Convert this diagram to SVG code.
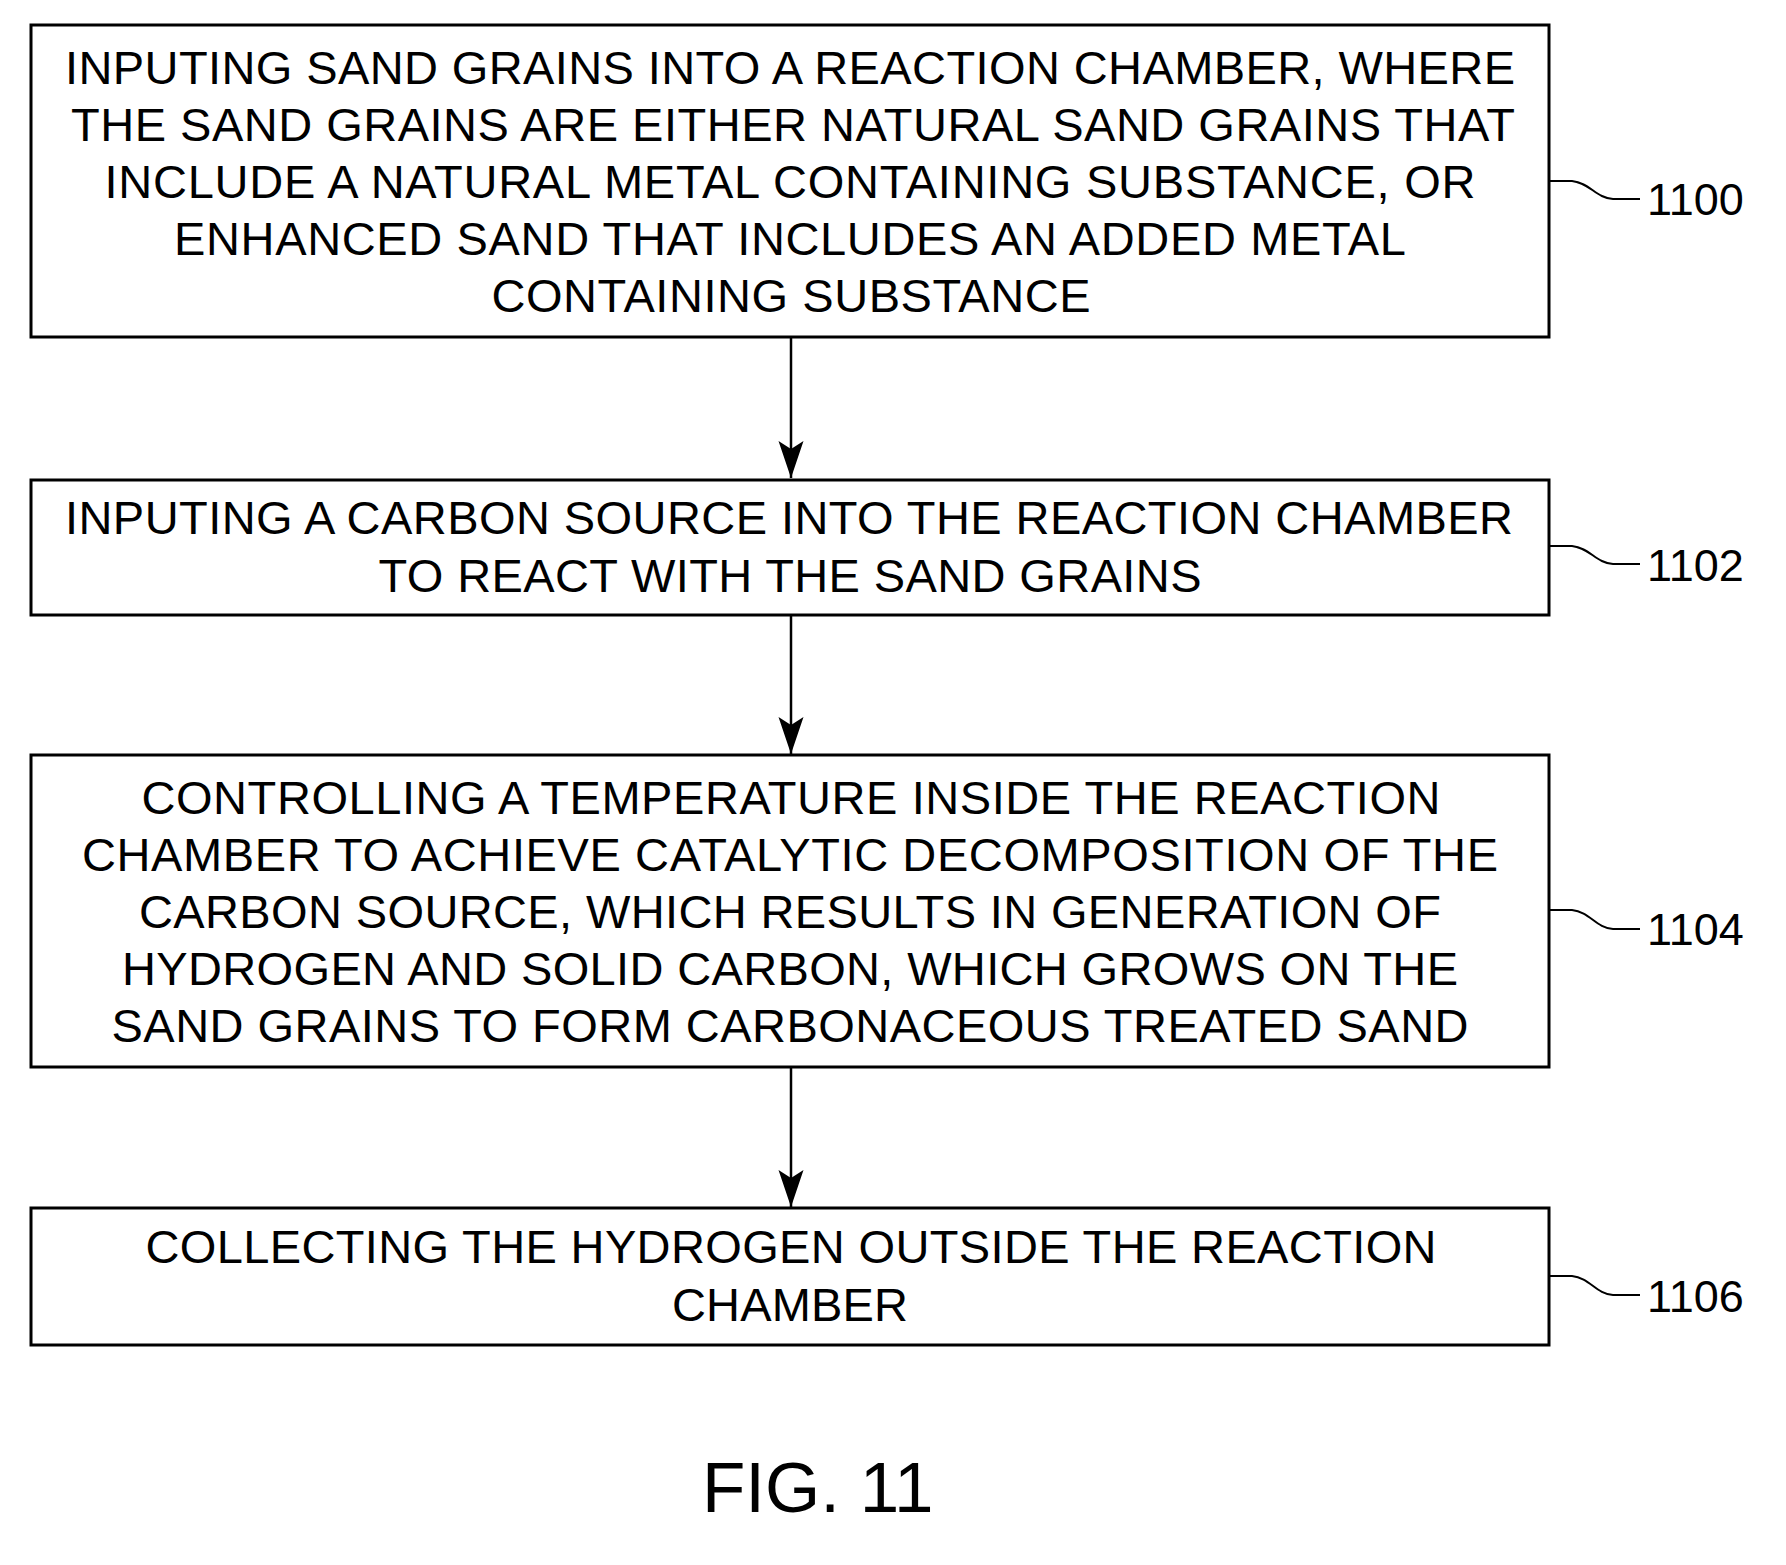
<svg xmlns="http://www.w3.org/2000/svg" width="1786" height="1565" viewBox="0 0 1786 1565">
<style>
.box{fill:#fff;stroke:#000;stroke-width:3}
.t{font-family:"Liberation Sans",Arial,sans-serif;font-size:47px;fill:#000;text-anchor:middle}
.lbl{font-family:"Liberation Sans",Arial,sans-serif;font-size:45px;fill:#000}
.lead{fill:none;stroke:#000;stroke-width:2}
.conn{stroke:#000;stroke-width:2.5;fill:none}
</style>
<defs>
<marker id="arr" markerUnits="userSpaceOnUse" markerWidth="42" markerHeight="30" viewBox="-40 -15 42 30" refX="0" refY="0" orient="auto">
<path d="M0,0 L-37,-12.5 L-29,0 L-37,12.5 Z" fill="#000"/>
</marker>
</defs>
<rect width="1786" height="1565" fill="#fff"/>
<g id="connectors">
<line class="conn" x1="791" y1="337" x2="791" y2="478" marker-end="url(#arr)"/>
<line class="conn" x1="791" y1="615" x2="791" y2="754" marker-end="url(#arr)"/>
<line class="conn" x1="791" y1="1067" x2="791" y2="1207" marker-end="url(#arr)"/>
</g>
<g id="n1100">
<rect class="box" x="31" y="25" width="1518" height="312"/>
<text class="t" x="790" y="84" textLength="1450">INPUTING SAND GRAINS INTO A REACTION CHAMBER, WHERE</text>
<text class="t" x="793" y="141" textLength="1444">THE SAND GRAINS ARE EITHER NATURAL SAND GRAINS THAT</text>
<text class="t" x="790" y="198" textLength="1371">INCLUDE A NATURAL METAL CONTAINING SUBSTANCE, OR</text>
<text class="t" x="790" y="255" textLength="1232">ENHANCED SAND THAT INCLUDES AN ADDED METAL</text>
<text class="t" x="791" y="312" textLength="599">CONTAINING SUBSTANCE</text>
<path class="lead" d="M1550,181 L1572,181 C1590,183 1596,198 1613,199 L1640,199"/>
<text class="lbl" x="1647" y="215">1100</text>
</g>
<g id="n1102">
<rect class="box" x="31" y="480" width="1518" height="135"/>
<text class="t" x="789" y="534" textLength="1448">INPUTING A CARBON SOURCE INTO THE REACTION CHAMBER</text>
<text class="t" x="790" y="592" textLength="823">TO REACT WITH THE SAND GRAINS</text>
<path class="lead" d="M1550,546 L1572,546 C1590,548 1596,563 1613,564 L1640,564"/>
<text class="lbl" x="1647" y="581">1102</text>
</g>
<g id="n1104">
<rect class="box" x="31" y="755" width="1518" height="312"/>
<text class="t" x="791" y="814" textLength="1299">CONTROLLING A TEMPERATURE INSIDE THE REACTION</text>
<text class="t" x="790" y="871" textLength="1416">CHAMBER TO ACHIEVE CATALYTIC DECOMPOSITION OF THE</text>
<text class="t" x="790" y="928" textLength="1302">CARBON SOURCE, WHICH RESULTS IN GENERATION OF</text>
<text class="t" x="790" y="985" textLength="1336">HYDROGEN AND SOLID CARBON, WHICH GROWS ON THE</text>
<text class="t" x="790" y="1042" textLength="1357">SAND GRAINS TO FORM CARBONACEOUS TREATED SAND</text>
<path class="lead" d="M1550,910 L1572,910 C1590,912 1596,928 1613,929 L1640,929"/>
<text class="lbl" x="1647" y="945">1104</text>
</g>
<g id="n1106">
<rect class="box" x="31" y="1208" width="1518" height="137"/>
<text class="t" x="791" y="1263" textLength="1291">COLLECTING THE HYDROGEN OUTSIDE THE REACTION</text>
<text class="t" x="790" y="1321" textLength="236">CHAMBER</text>
<path class="lead" d="M1550,1276 L1572,1276 C1590,1278 1596,1294 1613,1295 L1640,1295"/>
<text class="lbl" x="1647" y="1312">1106</text>
</g>
<g id="caption">
<text x="702" y="1512" style="font-family:'Liberation Sans',Arial,sans-serif;font-size:71px;fill:#000">FIG. 11</text>
</g>
</svg>
